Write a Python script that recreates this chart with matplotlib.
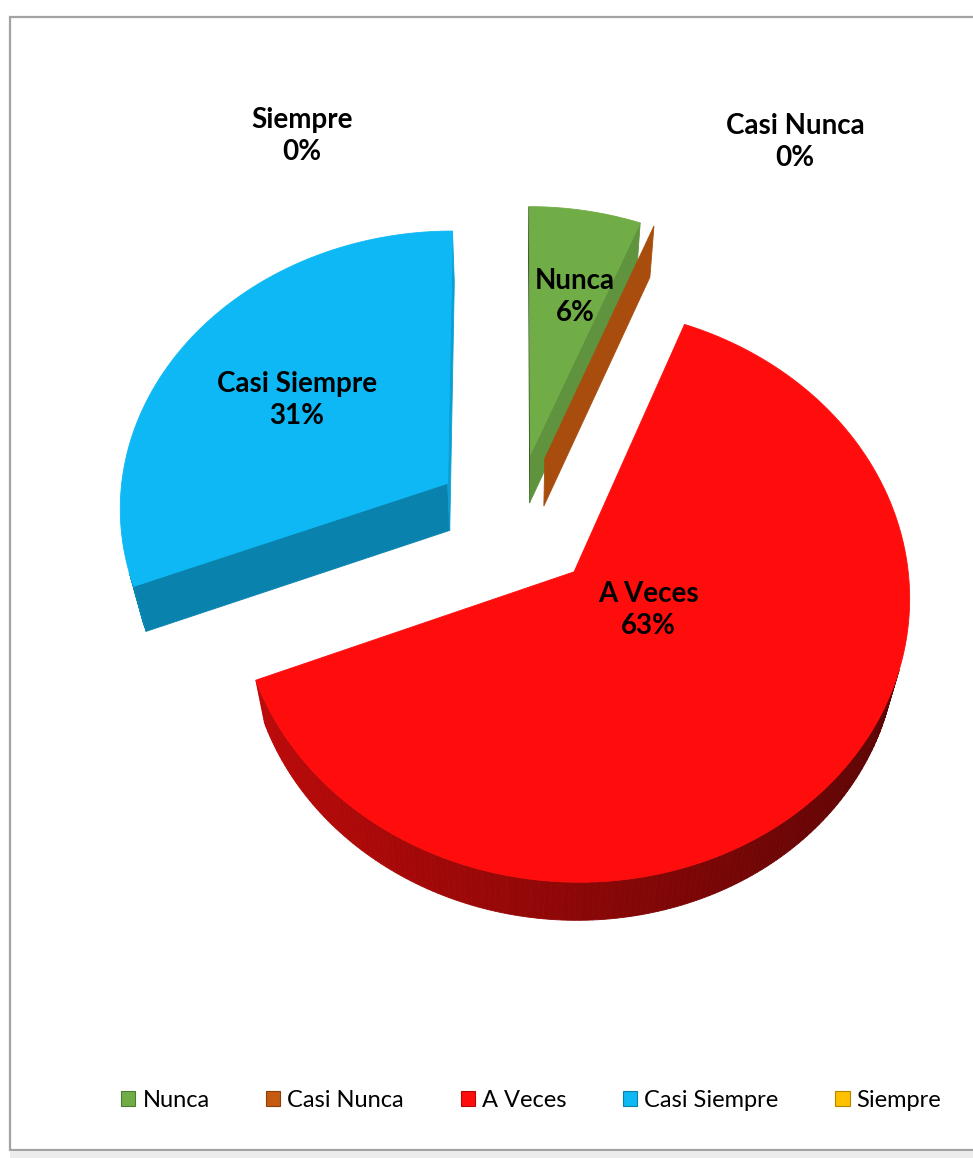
import numpy as np
import matplotlib.pyplot as plt
from matplotlib.patches import Polygon, Rectangle, Patch
from matplotlib.colors import to_rgb

# Survey answers, share of responses in percent
categories = ['Nunca', 'Casi Nunca', 'A Veces', 'Casi Siempre', 'Siempre']
shares = [6, 0, 63, 31, 0]
colors = ['#70AD47', '#C55A11', '#FF0D0D', '#0DB8F5', '#FFC000']

# where each data label sits (pixels, y down)
label_pos = [(575, 297), (795, 142), (648, 610), (297, 400), (302, 136)]

# view / geometry settings for the tilted pie
CX, CY = 515, 522
SCALE = 329.5
ELEV = np.radians(57.5)
DIST = 6.86
THICK = 0.27
EXPLODE = 0.25

cam = np.array([0.0, -DIST * np.cos(ELEV), DIST * np.sin(ELEV)])


def project(x, y, z):
    v = y * np.sin(ELEV) + z * np.cos(ELEV)
    d = y * np.cos(ELEV) - z * np.sin(ELEV)
    s = DIST / (DIST + d)
    return CX + SCALE * x * s, CY - SCALE * v * s


def shade(color, f):
    r, g, b = to_rgb(color)
    return (r * f, g * f, b * f)


def faces_toward(p, n):
    return np.dot(cam - p, n) > 1e-6


fig = plt.figure(figsize=(9.73, 11.58), dpi=100)
ax = fig.add_axes([0, 0, 1, 1])
ax.set_xlim(0, 973)
ax.set_ylim(1158, 0)
ax.axis('off')

# chart frame
ax.add_patch(Rectangle((10, 17), 1000, 1133, facecolor='white',
                       edgecolor='#a3a3a3', lw=1.6, zorder=0))
ax.add_patch(Rectangle((10, 1151), 1000, 10, facecolor='#ececec',
                       edgecolor='none', zorder=0))

total = float(sum(shares))
bounds = np.concatenate([[0], np.cumsum(shares)]) / total * 2 * np.pi

slices = []
for i, (name, val, col) in enumerate(zip(categories, shares, colors)):
    a0, a1 = bounds[i], bounds[i + 1]
    mid = (a0 + a1) / 2
    ox, oy = EXPLODE * np.sin(mid), EXPLODE * np.cos(mid)
    slices.append((oy, a0, a1, ox, col))

# paint the farthest slices first
for oy, a0, a1, ox, col in sorted(slices, key=lambda s: -s[0]):
    polys = []
    # flat radial walls at the start and end of the slice
    for ang, n in ((a0, np.array([-np.cos(a0), np.sin(a0), 0])),
                   (a1, np.array([np.cos(a1), -np.sin(a1), 0]))):
        rim = np.array([ox + np.sin(ang), oy + np.cos(ang)])
        p = np.array([(ox + rim[0]) / 2, (oy + rim[1]) / 2, -THICK / 2])
        if faces_toward(p, n):
            pts = [project(ox, oy, 0), project(rim[0], rim[1], 0),
                   project(rim[0], rim[1], -THICK), project(ox, oy, -THICK)]
            polys.append((pts, shade(col, 0.62 + 0.25 * n[0])))
    # curved outer wall
    if a1 > a0:
        th = np.linspace(a0, a1, int(np.degrees(a1 - a0)) + 2)
        for j in range(len(th) - 1):
            tm = (th[j] + th[j + 1]) / 2
            n = np.array([np.sin(tm), np.cos(tm), 0])
            p = np.array([ox + n[0], oy + n[1], -THICK / 2])
            if not faces_toward(p, n):
                continue
            xa, ya = ox + np.sin(th[j]), oy + np.cos(th[j])
            xb, yb = ox + np.sin(th[j + 1]), oy + np.cos(th[j + 1])
            pts = [project(xa, ya, 0), project(xb, yb, 0),
                   project(xb, yb, -THICK), project(xa, ya, -THICK)]
            polys.append((pts, shade(col, 0.55 - 0.2 * n[0])))
        top = [project(ox, oy, 0)] + [project(ox + np.sin(t), oy + np.cos(t), 0) for t in th]
        polys.append((top, to_rgb(col)))
    for pts, c in polys:
        ax.add_patch(Polygon(pts, closed=True, facecolor=c, edgecolor=c,
                             lw=0.6, zorder=2))

# data labels
for name, val, (lx, ly) in zip(categories, shares, label_pos):
    ax.text(lx, ly, f'{name}\n{val}%', ha='center', va='center',
            fontsize=20, fontweight='bold', family='Lato',
            linespacing=1.3, zorder=5)

handles = [Patch(facecolor=c, edgecolor=shade(c, 0.7), lw=0.8) for c in colors]
fig.legend(handles, categories, loc='center', bbox_to_anchor=(0.546, 0.05),
           ncol=5, frameon=False, prop={'family': 'Lato', 'size': 17},
           handlelength=0.6, handleheight=0.6, handletextpad=0.3,
           columnspacing=2.4)

fig.savefig('out.png', dpi=100)
